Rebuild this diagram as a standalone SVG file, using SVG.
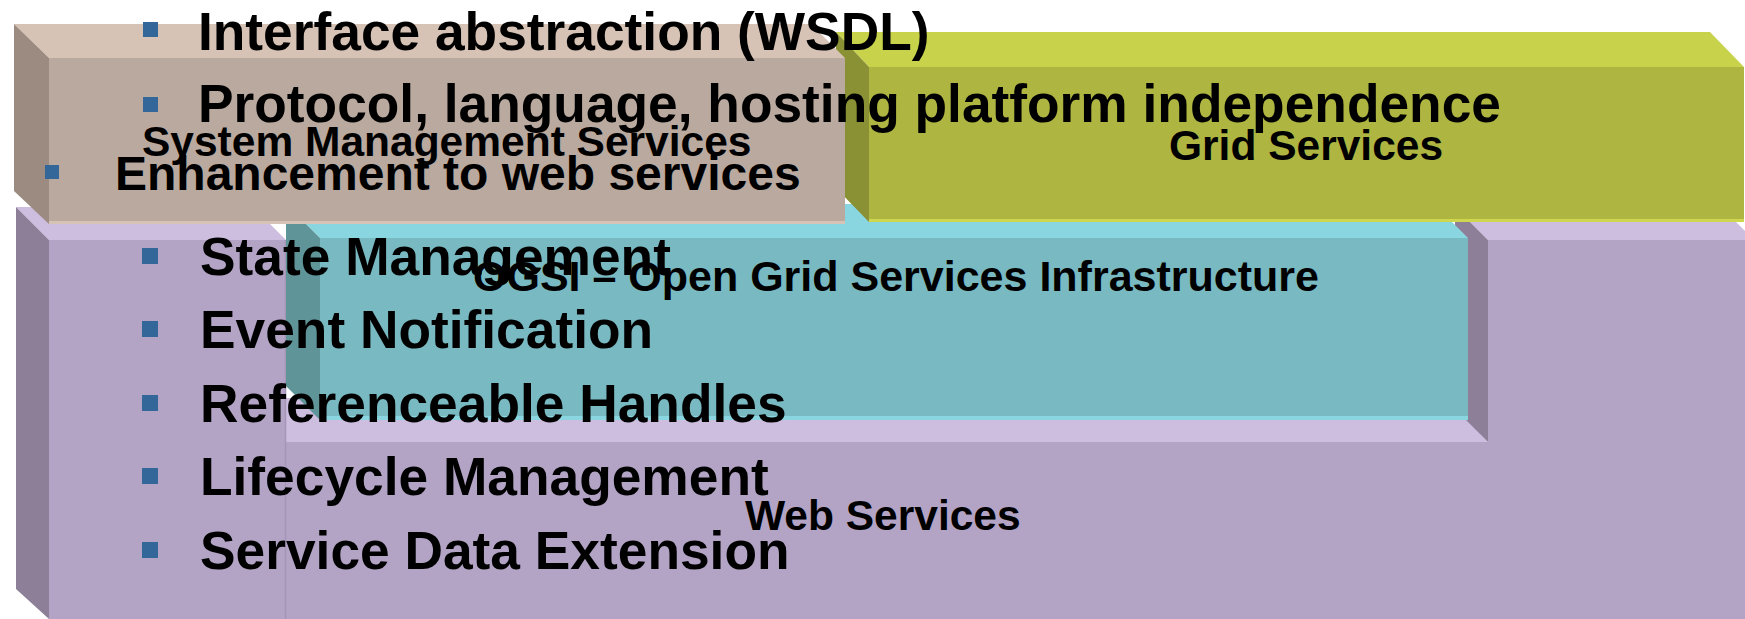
<svg xmlns="http://www.w3.org/2000/svg" width="1745" height="619" viewBox="0 0 1745 619">
<style>
.t{font-family:"Liberation Sans",Arial,sans-serif;font-weight:bold;fill:#000}
.big{font-size:53.3px}
.mid{font-size:48px}
.lbl{font-size:42.5px}
.bul{fill:#336699}
.pTop{fill:#CDBDDF}.pFront{fill:#B3A4C6}.pLeft{fill:#8C7F97}
.cTop{fill:#8AD6E0}.cFront{fill:#78B9C2}.cLeft{fill:#5F9498}
.gTop{fill:#C8D24B}.gFront{fill:#AFB541}.gLeft{fill:#8A9034}
.nTop{fill:#D6C3B5}.nFront{fill:#BAA99F}.nLeft{fill:#9B8B80}
</style>
<rect width="1745" height="619" fill="#FFFFFF"/>
<g id="web-services">
  <polygon class="pTop" points="16,207 253,207 286,240 49,240"/>
  <polygon class="pLeft" points="16,207 49,240 49,619 16,589"/>
  <polygon class="pTop" points="286,398 1446,398 1488,442 286,442"/>
  <polygon class="pTop" points="1455,207 1721,207 1754,240 1488,240"/>
  <polygon class="pLeft" points="1455,207 1488,240 1488,442 1455,409"/>
  <polygon class="pFront" points="285,442 1488,442 1488,240 1745,240 1745,619 285,619"/>
  <polygon class="pFront" points="49,240 286,240 286,619 49,619"/>
  <line x1="285.5" y1="240" x2="285.5" y2="619" stroke="#A595B7" stroke-width="1.5"/>
  <text class="t lbl" x="745" y="530">Web Services</text>
</g>
<g id="ogsi">
  <polygon class="cTop" points="286,204 1434,204 1468,238 320,238"/>
  <polygon class="cLeft" points="286,204 320,238 320,420 286,386"/>
  <polygon class="cFront" points="320,238 1468,238 1468,420 320,420"/>
  <rect x="320" y="416" width="1148" height="4" fill="#8AD6E0"/>
  <text class="t lbl" x="473" y="291" style="font-size:43px">OGSI – Open Grid Services Infrastructure</text>
</g>
<g id="grid-services">
  <polygon class="gTop" points="836,32 1710,32 1744,67 869,67"/>
  <polygon class="gLeft" points="836,32 869,67 869,222 836,188"/>
  <polygon class="gFront" points="869,67 1744,67 1744,222 869,222"/>
  <rect x="869" y="219" width="875" height="3" fill="#CDD64E"/>
  <text class="t lbl" x="1169" y="160">Grid Services</text>
</g>
<g id="system-management">
  <polygon class="nTop" points="14,24 811,24 845,58 49,58"/>
  <polygon class="nLeft" points="14,24 49,58 49,224 14,191"/>
  <polygon class="nFront" points="49,58 845,58 845,224 49,224"/>
  <rect x="49" y="221" width="796" height="3" fill="#D6C3B5"/>
  <text class="t lbl" x="142" y="156">System Management Services</text>
</g>
<g id="connectors"/>
<g id="bullets">
  <rect class="bul" x="143" y="22" width="15" height="15"/>
  <text class="t big" x="198" y="50">Interface abstraction (WSDL)</text>
  <rect class="bul" x="143" y="97" width="15" height="15"/>
  <text class="t big" x="198" y="122">Protocol, language, hosting platform independence</text>
  <rect class="bul" x="45" y="165" width="14" height="14"/>
  <text class="t mid" x="115" y="190">Enhancement to web services</text>
  <rect class="bul" x="142" y="248" width="16" height="16"/>
  <text class="t big" x="200" y="275">State Management</text>
  <rect class="bul" x="142" y="321" width="16" height="16"/>
  <text class="t big" x="200" y="348">Event Notification</text>
  <rect class="bul" x="142" y="395" width="16" height="16"/>
  <text class="t big" x="200" y="422">Referenceable Handles</text>
  <rect class="bul" x="142" y="468" width="16" height="16"/>
  <text class="t big" x="200" y="495">Lifecycle Management</text>
  <rect class="bul" x="142" y="542" width="16" height="16"/>
  <text class="t big" x="200" y="569">Service Data Extension</text>
</g>
</svg>
